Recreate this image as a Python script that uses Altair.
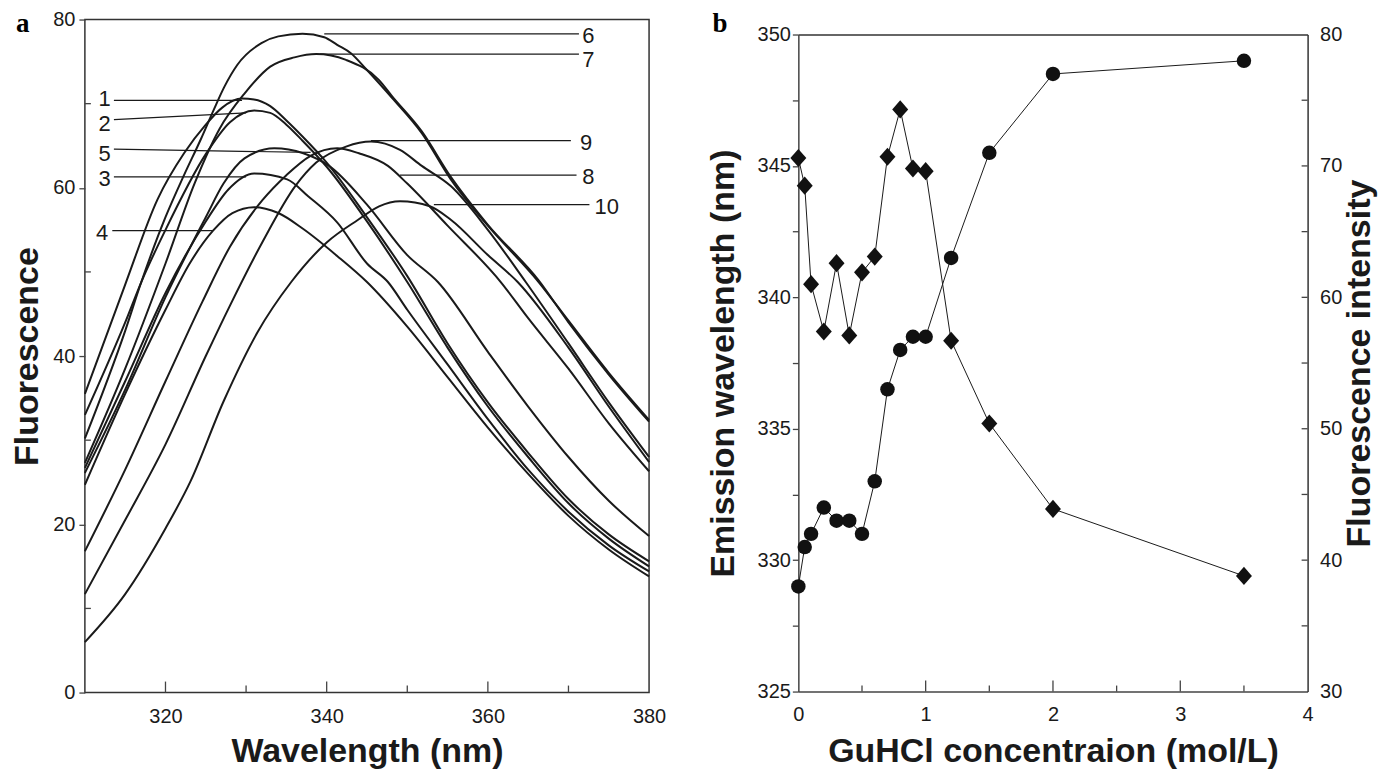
import altair as alt
import pandas as pd

# ---------------- Panel a: emission spectra (10 curves) ----------------
c1_wl = [310, 315, 319, 322.3, 325, 327, 329.5, 331, 333, 335, 337, 340, 345, 350, 355, 360, 365, 370, 375, 380]
c1_f = [35.5, 48.5, 58.6, 64.1, 67.5, 69.5, 70.6, 70.5, 69.7, 68.0, 66.1, 63.0, 56.5, 49.5, 41.5, 34.5, 28.5, 23.0, 18.8, 15.6]
c2_wl = [310, 315, 317, 320, 325, 328, 331, 333, 335, 337, 340, 345, 350, 355, 360, 365, 370, 375, 380]
c2_f = [33.0, 44.0, 48.8, 55.0, 64.0, 67.8, 69.2, 68.9, 67.5, 65.6, 62.5, 56.0, 48.8, 41.0, 34.0, 28.0, 22.5, 18.3, 15.0]
c3_wl = [310, 315, 320, 325, 327.8, 331, 335.1, 337.7, 341.3, 345, 347.6, 350, 355, 360, 365, 370, 375, 380]
c3_f = [26.7, 37.0, 47.5, 56.0, 59.8, 61.7, 61.0, 59.0, 55.9, 51.0, 48.8, 45.5, 39.0, 32.5, 26.5, 21.5, 17.5, 14.4]
c4_wl = [310, 315, 320, 323, 325.9, 328.3, 331, 334, 337.1, 341.3, 345, 350, 355, 360, 365, 370, 375, 380]
c4_f = [24.7, 35.5, 45.5, 51.0, 54.9, 57.0, 57.7, 57.0, 55.1, 51.9, 48.8, 43.5, 37.5, 31.5, 26.0, 21.0, 17.0, 13.8]
c5_wl = [310, 315, 320, 325, 327.2, 329.8, 333.5, 337.1, 340.3, 345, 350, 353.8, 360, 365, 370, 375, 380]
c5_f = [26.1, 36.0, 47.0, 56.5, 60.5, 63.5, 64.7, 64.1, 62.6, 58.0, 52.0, 48.8, 40.5, 34.0, 28.0, 22.8, 18.6]
c6_wl = [310, 315, 317, 320, 322.3, 324.4, 326, 327.3, 328.9, 331.9, 334, 337, 339.7, 341.3, 343, 345, 348.1, 351.8, 355.4, 360, 366.3, 370, 375, 380]
c6_f = [30.2, 43.0, 48.8, 56.5, 61.5, 65.8, 69.3, 72.0, 74.6, 77.2, 78.0, 78.3, 77.9, 77.0, 76.0, 74.0, 70.7, 66.5, 61.0, 55.5, 48.8, 44.2, 38.0, 32.4]
c7_wl = [310, 315, 320, 323.6, 326.7, 329.8, 333, 336, 338.7, 342.4, 346.5, 348.1, 351.8, 355.4, 360, 366.3, 370, 375, 380]
c7_f = [27.3, 38.5, 51.0, 60.5, 67.0, 71.2, 74.4, 75.5, 75.9, 75.2, 72.8, 70.9, 66.7, 61.3, 55.6, 49.0, 44.0, 37.8, 32.2]
c8_wl = [310, 315, 320, 324.6, 328, 332, 335, 338, 341.3, 344, 347.6, 350, 355, 361.6, 365, 370, 375, 380]
c8_f = [16.8, 26.5, 37.0, 46.5, 53.0, 58.5, 61.5, 63.8, 64.7, 64.1, 62.6, 60.5, 55.5, 48.8, 44.5, 38.5, 32.0, 26.3]
c9_wl = [310, 315, 320, 325, 328, 332, 336.1, 338.7, 342.4, 345.5, 349.1, 351.8, 355.4, 360, 364.7, 370, 375, 380]
c9_f = [11.7, 20.5, 29.5, 40.0, 46.0, 53.5, 60.2, 63.0, 64.9, 65.5, 64.5, 62.6, 60.2, 55.0, 48.8, 41.5, 34.5, 28.0]
c10_wl = [310, 315, 320, 323.1, 327.2, 331.4, 335.6, 340, 343.9, 346.5, 349.1, 352.8, 355.4, 360, 363.7, 370, 375, 380]
c10_f = [6.0, 11.7, 19.5, 25.1, 34.6, 42.8, 48.8, 53.5, 56.2, 57.8, 58.4, 57.8, 56.2, 52.0, 48.8, 41.0, 34.0, 27.4]

curve_names = ["1", "2", "3", "4", "5", "6", "7", "8", "9", "10"]
curve_wl = [c1_wl, c2_wl, c3_wl, c4_wl, c5_wl, c6_wl, c7_wl, c8_wl, c9_wl, c10_wl]
curve_f = [c1_f, c2_f, c3_f, c4_f, c5_f, c6_f, c7_f, c8_f, c9_f, c10_f]

# curve labels with leader lines (data coordinates)
lab_text = ["6", "7", "9", "8", "10", "1", "2", "5", "3", "4"]
lab_wl = [371.6, 371.6, 371.3, 371.6, 373.1, 313.2, 313.2, 313.2, 313.2, 312.9]
lab_f = [78.1, 75.2, 65.3, 61.3, 57.7, 70.5, 67.6, 64.0, 61.1, 54.6]
lab_align = ["left", "left", "left", "left", "left", "right", "right", "right", "right", "right"]
lead_wl1 = [339.7, 339.2, 345.5, 349.1, 353.3, 313.6, 313.6, 313.6, 313.6, 313.4]
lead_wl2 = [371.3, 371.3, 370.3, 371.0, 372.6, 329.5, 330.0, 338.0, 330.0, 325.9]
lead_f1 = [78.3, 75.9, 65.6, 61.5, 58.0, 70.4, 68.1, 64.6, 61.3, 54.9]
lead_f2 = [78.3, 75.9, 65.6, 61.5, 58.0, 70.4, 68.9, 64.2, 61.3, 54.9]

xa_major = [320, 340, 360]
xa_minor = [330, 350, 370]
ya_minor = [10, 30, 50, 70]

# ---------------- Panel b: GuHCl titration ----------------
conc = [0, 0.05, 0.1, 0.2, 0.3, 0.4, 0.5, 0.6, 0.7, 0.8, 0.9, 1.0, 1.2, 1.5, 2.0, 3.5]
emission = [329.0, 330.5, 331.0, 332.0, 331.5, 331.5, 331.0, 333.0, 336.5, 338.0, 338.5, 338.5, 341.5, 345.5, 348.5, 349.0]
intensity = [70.6, 68.5, 61.0, 57.4, 62.6, 57.1, 61.9, 63.1, 70.7, 74.3, 69.8, 69.6, 56.7, 50.4, 43.9, 38.8]

xb_major = [1, 2, 3]
xb_minor = [0.5, 1.5, 2.5, 3.5]
yb_right_ticks = [35, 40, 45, 50, 55, 60, 65, 70, 75]

# ---------------- styling ----------------
INK = "#1a1a1a"
AX = "#444444"
TICKFONT = "Liberation Sans, Arial, sans-serif"
TITLEFONT = "Liberation Sans, Arial, sans-serif"
LETTERFONT = "Liberation Serif, Times New Roman, serif"
WA, HA = 565, 674
WB, HB = 510, 673       # panel b frame runs from TOPB px to HB px of this height
TOPB = 15

# ----- panel a -----
curves_df = pd.concat(
    [pd.DataFrame({"wl": w, "f": f, "curve": n}) for n, w, f in zip(curve_names, curve_wl, curve_f)],
    ignore_index=True,
)
labels_df = pd.DataFrame({"wl": lab_wl, "f": lab_f, "text": lab_text, "align": lab_align})
leaders_df = pd.DataFrame({"wl": lead_wl1, "wl2": lead_wl2, "f": lead_f1, "f2": lead_f2})

xa_scale = alt.Scale(domain=[310, 380], nice=False, zero=False)
ya_scale = alt.Scale(domain=[0, 80], nice=False)
xa_axis = alt.Axis(
    values=[320, 340, 360, 380], ticks=False, domain=False, grid=False, labelFlush=False,
    labelPadding=14, labelFont=TICKFONT, labelFontSize=20, labelColor=INK,
    title="Wavelength (nm)", titleFont=TITLEFONT, titleFontSize=34, titleFontWeight="bold",
    titleColor=INK, titleX=WA / 2, titleY=59, titleBaseline="middle", titleAlign="center",
)
ya_axis = alt.Axis(
    values=[0, 20, 40, 60, 80], tickSize=6, tickColor=AX, tickWidth=1.3, domain=False, grid=False,
    labelPadding=4, labelFont=TICKFONT, labelFontSize=20, labelColor=INK,
    title="Fluorescence", titleFont=TITLEFONT, titleFontSize=34, titleFontWeight="bold",
    titleColor=INK, titleAngle=270, titleX=-57, titleY=HA / 2, titleBaseline="middle",
    titleAlign="center",
)
xa = alt.X("wl:Q", scale=xa_scale, axis=xa_axis)
ya = alt.Y("f:Q", scale=ya_scale, axis=ya_axis)

lines_a = alt.Chart(curves_df).mark_line(
    color=INK, strokeWidth=2, interpolate="monotone"
).encode(x=xa, y=ya, detail="curve:N")

leaders_a = alt.Chart(leaders_df).mark_rule(color=INK, strokeWidth=1.2).encode(
    x=xa, x2="wl2:Q", y=ya, y2="f2:Q"
)
labels_r = alt.Chart(labels_df[labels_df["align"] == "left"]).mark_text(
    align="left", baseline="middle", font=TICKFONT, fontSize=22, color=INK, dx=1
).encode(x=xa, y=ya, text="text:N")
labels_l = alt.Chart(labels_df[labels_df["align"] == "right"]).mark_text(
    align="right", baseline="middle", font=TICKFONT, fontSize=22, color=INK
).encode(x=xa, y=ya, text="text:N")

ticks_xa_major = alt.Chart(pd.DataFrame({"wl": xa_major})).mark_rule(color=AX, strokeWidth=1.3).encode(
    x=xa, y=alt.value(HA), y2=alt.value(HA - 11)
)
ticks_xa_minor = alt.Chart(pd.DataFrame({"wl": xa_minor})).mark_rule(color=AX, strokeWidth=1.3).encode(
    x=xa, y=alt.value(HA), y2=alt.value(HA - 7)
)
ticks_ya_minor = alt.Chart(pd.DataFrame({"f": ya_minor})).mark_rule(color=AX, strokeWidth=1.3).encode(
    y=ya, x=alt.value(0), x2=alt.value(6)
)
letter_a = alt.Chart(pd.DataFrame({"t": ["a"]})).mark_text(
    align="left", baseline="top", font=LETTERFONT, fontSize=27, fontWeight="bold", color="#000"
).encode(text="t:N", x=alt.value(-69), y=alt.value(-9))

panel_a = alt.layer(
    lines_a, leaders_a, labels_r, labels_l, ticks_xa_major, ticks_xa_minor, ticks_ya_minor, letter_a
).properties(width=WA, height=HA)

# ----- panel b -----
df_b = pd.DataFrame({"c": conc, "em": emission, "fi": intensity})
xb_axis = alt.Axis(
    values=[0, 1, 2, 3, 4], ticks=False, domain=True, domainColor=AX, domainWidth=1.5, grid=False,
    labelFlush=False, labelPadding=13, labelFont=TICKFONT, labelFontSize=20, labelColor=INK,
    title="GuHCl concentraion (mol/L)", titleFont=TITLEFONT, titleFontSize=34,
    titleFontWeight="bold", titleColor=INK, titleX=WB / 2, titleY=60,
    titleBaseline="middle", titleAlign="center",
)
xb_top_axis = alt.Axis(
    orient="top", offset=-TOPB, labels=False, ticks=False, domain=True, domainColor="#333333",
    domainWidth=1.5, grid=False, title="",
)
em_axis = alt.Axis(
    values=[325, 327.5, 330, 332.5, 335, 337.5, 340, 342.5, 345, 347.5, 350],
    labelExpr="datum.value % 5 == 0 ? datum.label : ''",
    tickSize=6, tickColor=AX, tickWidth=1.3, domain=True, domainColor=AX, domainWidth=1.5,
    grid=False, labelPadding=2, labelFont=TICKFONT, labelFontSize=20, labelColor=INK,
    title="Emission wavelength (nm)", titleFont=TITLEFONT, titleFontSize=34,
    titleFontWeight="bold", titleColor=INK, titleAngle=270, titleX=-75,
    titleY=(HB + TOPB) / 2, titleBaseline="middle", titleAlign="center",
)
fi_axis = alt.Axis(
    orient="right", values=[30, 40, 50, 60, 70, 80], ticks=False, domain=True,
    domainColor="#333333", domainWidth=1.5, grid=False,
    labelPadding=12, labelFont=TICKFONT, labelFontSize=20, labelColor=INK,
    title="Fluorescence intensity", titleFont=TITLEFONT, titleFontSize=34,
    titleFontWeight="bold", titleColor=INK, titleAngle=270, titleX=52,
    titleY=(HB + TOPB) / 2, titleBaseline="middle", titleAlign="center",
)
xb_scale = alt.Scale(domain=[0, 4], nice=False)
xb = alt.X("c:Q", scale=xb_scale, axis=xb_axis)
xb_top = alt.X("c:Q", scale=xb_scale, axis=xb_top_axis)
yem = alt.Y("em:Q", scale=alt.Scale(domain=[325, 350], range=[HB, TOPB], nice=False, zero=False), axis=em_axis)
yfi = alt.Y("fi:Q", scale=alt.Scale(domain=[30, 80], range=[HB, TOPB], nice=False, zero=False), axis=fi_axis)

base_b = alt.Chart(df_b)
em_line = base_b.mark_line(color=INK, strokeWidth=1).encode(x=xb, y=yem)
em_pts = base_b.mark_point(shape="circle", filled=True, size=210, color="#111", opacity=1).encode(x=xb, y=yem)
ticks_xb_major = alt.Chart(pd.DataFrame({"c": xb_major})).mark_rule(color=AX, strokeWidth=1.3).encode(
    x=xb, y=alt.value(HB), y2=alt.value(HB - 11)
)
ticks_xb_minor = alt.Chart(pd.DataFrame({"c": xb_minor})).mark_rule(color=AX, strokeWidth=1.3).encode(
    x=xb, y=alt.value(HB), y2=alt.value(HB - 6)
)
letter_b = alt.Chart(pd.DataFrame({"t": ["b"]})).mark_text(
    align="left", baseline="top", font=LETTERFONT, fontSize=27, fontWeight="bold", color="#000"
).encode(text="t:N", x=alt.value(-86), y=alt.value(-9))
em_layer = alt.layer(em_line, em_pts, ticks_xb_major, ticks_xb_minor, letter_b)

fi_line = base_b.mark_line(color=INK, strokeWidth=1).encode(x=xb_top, y=yfi)
fi_pts = base_b.mark_point(
    shape="M0,-1L0.88,0L0,1L-0.88,0Z", filled=True, size=330, color="#111", opacity=1
).encode(x=xb_top, y=yfi)
ticks_fi = alt.Chart(pd.DataFrame({"fi": yb_right_ticks})).mark_rule(color=AX, strokeWidth=1.3).encode(
    y=yfi, x=alt.value(WB - 6), x2=alt.value(WB)
)
fi_layer = alt.layer(fi_line, fi_pts, ticks_fi)

panel_b = (
    alt.layer(em_layer, fi_layer)
    .resolve_scale(y="independent", x="independent")
    .properties(width=WB, height=HB, view=alt.ViewBackground(stroke="transparent"))
)

chart = (
    alt.hconcat(panel_a, panel_b, spacing=38.5)
    .properties(padding={"left": 2, "top": 0, "right": 0, "bottom": 0}, background="white")
    .configure_view(stroke="#333333", strokeWidth=1.5)
)

chart.save("out.html", embed_options={"renderer": "svg", "actions": False})
